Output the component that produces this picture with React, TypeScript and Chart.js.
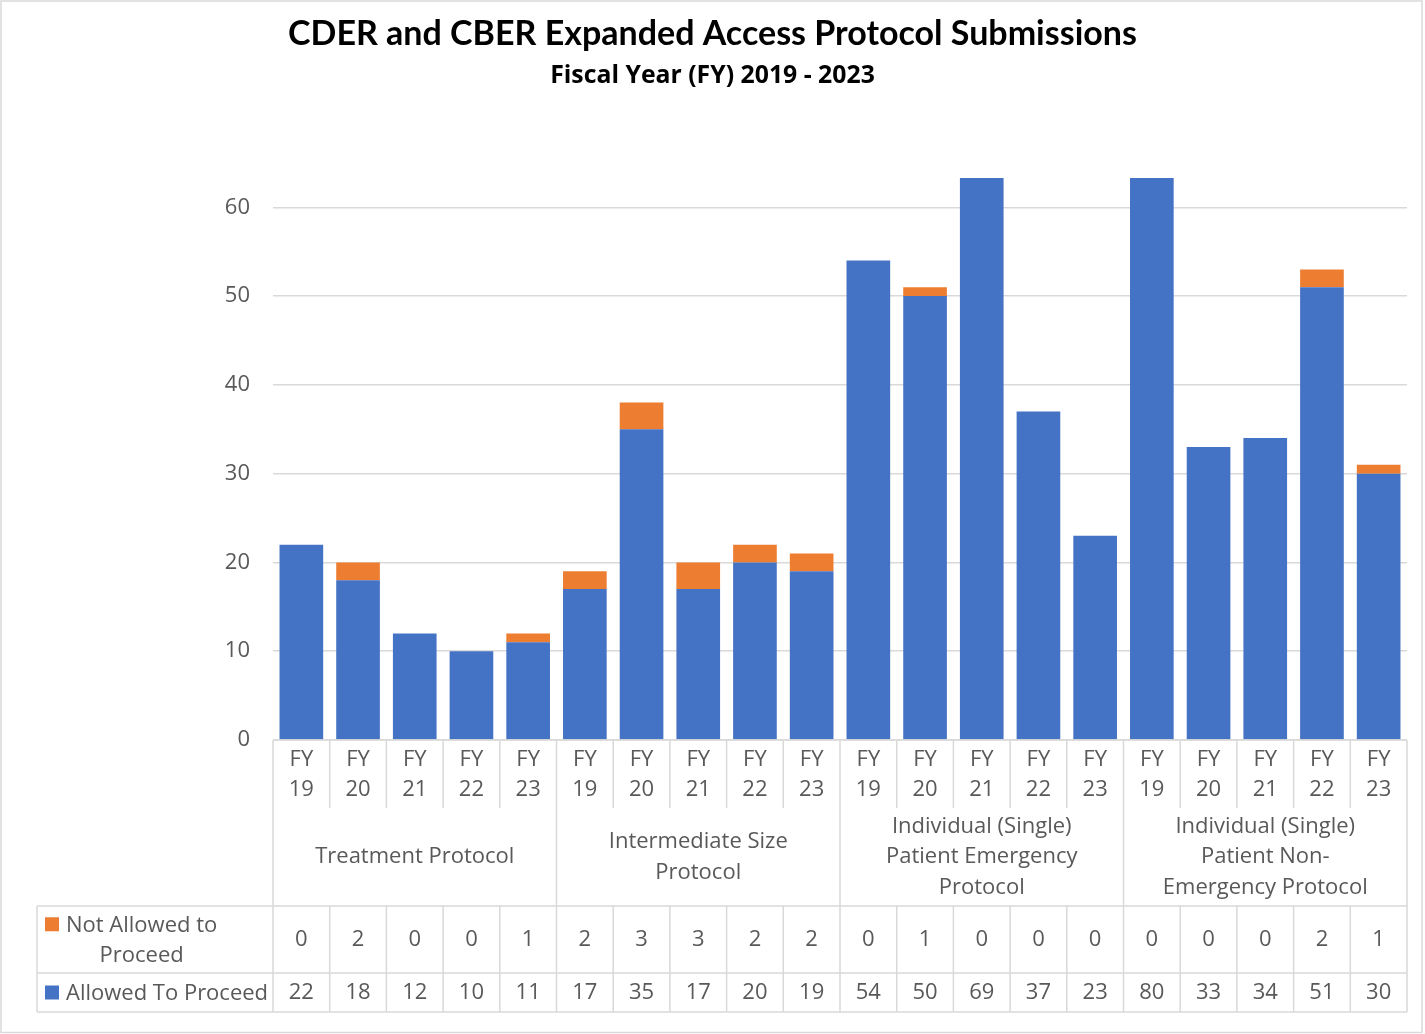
import React, { useEffect, useRef } from "react";
import { Chart, registerables } from "chart.js";

Chart.register(...registerables);

// ---------- data ----------
const chartTitle = "CDER and CBER Expanded Access Protocol Submissions";
const chartSubtitle = "Fiscal Year (FY) 2019 - 2023";

const fiscalYears = ["19", "20", "21", "22", "23"];

const protocolGroups = [
  "Treatment Protocol",
  "Intermediate Size Protocol",
  "Individual (Single) Patient Emergency Protocol",
  "Individual (Single) Patient Non-Emergency Protocol",
];

const groupLabelLines = [
  ["Treatment Protocol"],
  ["Intermediate Size", "Protocol"],
  ["Individual (Single)", "Patient Emergency", "Protocol"],
  ["Individual (Single)", "Patient Non-", "Emergency Protocol"],
];

const notAllowedValues = [0, 2, 0, 0, 1, 2, 3, 3, 2, 2, 0, 1, 0, 0, 0, 0, 0, 0, 2, 1];
const allowedValues = [22, 18, 12, 10, 11, 17, 35, 17, 20, 19, 54, 50, 69, 37, 23, 80, 33, 34, 51, 30];

const seriesNames = ["Allowed To Proceed", "Not Allowed to Proceed"];
const legendLines = [["Allowed To Proceed"], ["Not Allowed to", "Proceed"]];

const yTickValues = [0, 10, 20, 30, 40, 50, 60];
const yAxisMax = 63.3;

const categories = protocolGroups.flatMap((g) => fiscalYears.map((y) => `${g} FY ${y}`));

// ---------- styles ----------
const BLUE = "#4472C4";
const ORANGE = "#ED7D31";
const GRID = "#d9d9d9";
const TEXT = "#595959";
const TITLE_FONT = "Lato";
const FONT = "'Open Sans'";
const TEXT_SIZE = 22;

const tablePlugin = {
  id: "dataTable",
  beforeDraw(chart: any) {
    const ctx = chart.ctx as CanvasRenderingContext2D;
    ctx.save();
    ctx.fillStyle = "#ffffff";
    ctx.fillRect(0, 0, chart.width, chart.height);
    ctx.strokeStyle = GRID;
    ctx.lineWidth = 1.5;
    ctx.strokeRect(1, 1, chart.width - 4, chart.height - 2.5);
    ctx.restore();
  },
  afterDraw(chart: any) {
    const ctx = chart.ctx as CanvasRenderingContext2D;
    const xs = chart.scales.x;
    const area = chart.chartArea;
    const n = categories.length;
    const cw = (area.right - area.left) / n;
    const top = area.bottom;
    const fyBottom = top + 68;
    const groupBottom = top + 166;
    const row1Bottom = top + 233;
    const row2Bottom = top + 272;
    const tableLeft = 37;

    ctx.save();
    ctx.strokeStyle = GRID;
    ctx.lineWidth = 1.5;
    const line = (x1: number, y1: number, x2: number, y2: number) => {
      ctx.beginPath();
      ctx.moveTo(x1, y1);
      ctx.lineTo(x2, y2);
      ctx.stroke();
    };
    line(area.left, top, area.right, top);
    line(tableLeft, groupBottom, area.right, groupBottom);
    line(tableLeft, row1Bottom, area.right, row1Bottom);
    line(tableLeft, row2Bottom, area.right, row2Bottom);
    line(tableLeft, groupBottom, tableLeft, row2Bottom);
    for (let i = 0; i <= n; i++) {
      const x = i < n ? xs.getPixelForValue(i) - cw / 2 : xs.getPixelForValue(n - 1) + cw / 2;
      if (i % fiscalYears.length === 0) {
        line(x, top, x, row2Bottom);
      } else {
        line(x, top, x, fyBottom);
        line(x, groupBottom, x, row2Bottom);
      }
    }

    ctx.fillStyle = TEXT;
    ctx.textAlign = "center";
    ctx.textBaseline = "middle";
    ctx.font = `${TEXT_SIZE}px ${FONT}`;
    for (let i = 0; i < n; i++) {
      const cx = xs.getPixelForValue(i);
      ctx.fillText("FY", cx, top + 20);
      ctx.fillText(fiscalYears[i % fiscalYears.length], cx, top + 50);
      ctx.fillText(String(notAllowedValues[i]), cx, groupBottom + 34);
      ctx.fillText(String(allowedValues[i]), cx, row1Bottom + 20);
    }
    const lineH = 30.5;
    groupLabelLines.forEach((lines, g) => {
      const x0 = xs.getPixelForValue(g * fiscalYears.length) - cw / 2;
      const cx = x0 + (cw * fiscalYears.length) / 2;
      const cy = (fyBottom + groupBottom) / 2;
      lines.forEach((t, k) => {
        ctx.fillText(t, cx, cy + (k - (lines.length - 1) / 2) * lineH);
      });
    });

    // legend keys
    const rows = [
      { lines: legendLines[1], color: ORANGE, cy: (groupBottom + row1Bottom) / 2 },
      { lines: legendLines[0], color: BLUE, cy: (row1Bottom + row2Bottom) / 2 },
    ];
    rows.forEach((r) => {
      const y0 = r.cy - ((r.lines.length - 1) * lineH) / 2;
      ctx.fillStyle = r.color;
      ctx.fillRect(45, y0 - 7, 14, 14);
      ctx.fillStyle = TEXT;
      ctx.textAlign = "left";
      const w = ctx.measureText(r.lines[0]).width;
      ctx.fillText(r.lines[0], 66, y0 + 1);
      ctx.textAlign = "center";
      for (let k = 1; k < r.lines.length; k++) {
        ctx.fillText(r.lines[k], 66 + w / 2, y0 + 1 + k * lineH);
      }
    });
    ctx.restore();
  },
};

export default function App() {
  const ref = useRef<HTMLCanvasElement | null>(null);

  useEffect(() => {
    if (!ref.current) return;
    const chart = new Chart(ref.current, {
      type: "bar",
      data: {
        labels: categories,
        datasets: [
          {
            label: seriesNames[0],
            data: allowedValues,
            backgroundColor: BLUE,
            barPercentage: 0.77,
            categoryPercentage: 1,
          },
          {
            label: seriesNames[1],
            data: notAllowedValues,
            backgroundColor: ORANGE,
            barPercentage: 0.77,
            categoryPercentage: 1,
          },
        ],
      },
      options: {
        responsive: false,
        animation: false,
        devicePixelRatio: 1,
        layout: { padding: { left: 18, right: 18, top: 0, bottom: 294 } },
        plugins: {
          legend: { display: false },
          tooltip: { enabled: false },
          title: {
            display: true,
            text: chartTitle,
            color: "#000000",
            font: { family: TITLE_FONT, size: 34, weight: "bold", lineHeight: 1.2 },
            padding: { top: 13.6, bottom: 6.6 },
          },
          subtitle: {
            display: true,
            text: chartSubtitle,
            color: "#000000",
            font: { family: FONT, size: 24.8, weight: "bold", lineHeight: 1.2 },
            padding: { top: 0, bottom: 87.2 },
          },
        },
        scales: {
          x: { stacked: true, display: false },
          y: {
            stacked: true,
            min: 0,
            max: yAxisMax,
            afterBuildTicks: (s: any) => {
              s.ticks = yTickValues.map((v) => ({ value: v }));
            },
            afterFit: (s: any) => {
              s.width = 255;
            },
            grid: { color: GRID, lineWidth: 1.5, drawTicks: false },
            border: { display: false },
            ticks: { color: TEXT, font: { family: FONT, size: TEXT_SIZE }, padding: 23 },
          },
        },
      },
      plugins: [tablePlugin],
    });
    return () => chart.destroy();
  }, []);

  return (
    <div style={{ position: "absolute", left: 0, top: 0, width: 1425, height: 1034 }}>
      <canvas ref={ref} width={1425} height={1034} style={{ width: 1425, height: 1034 }} />
    </div>
  );
}
